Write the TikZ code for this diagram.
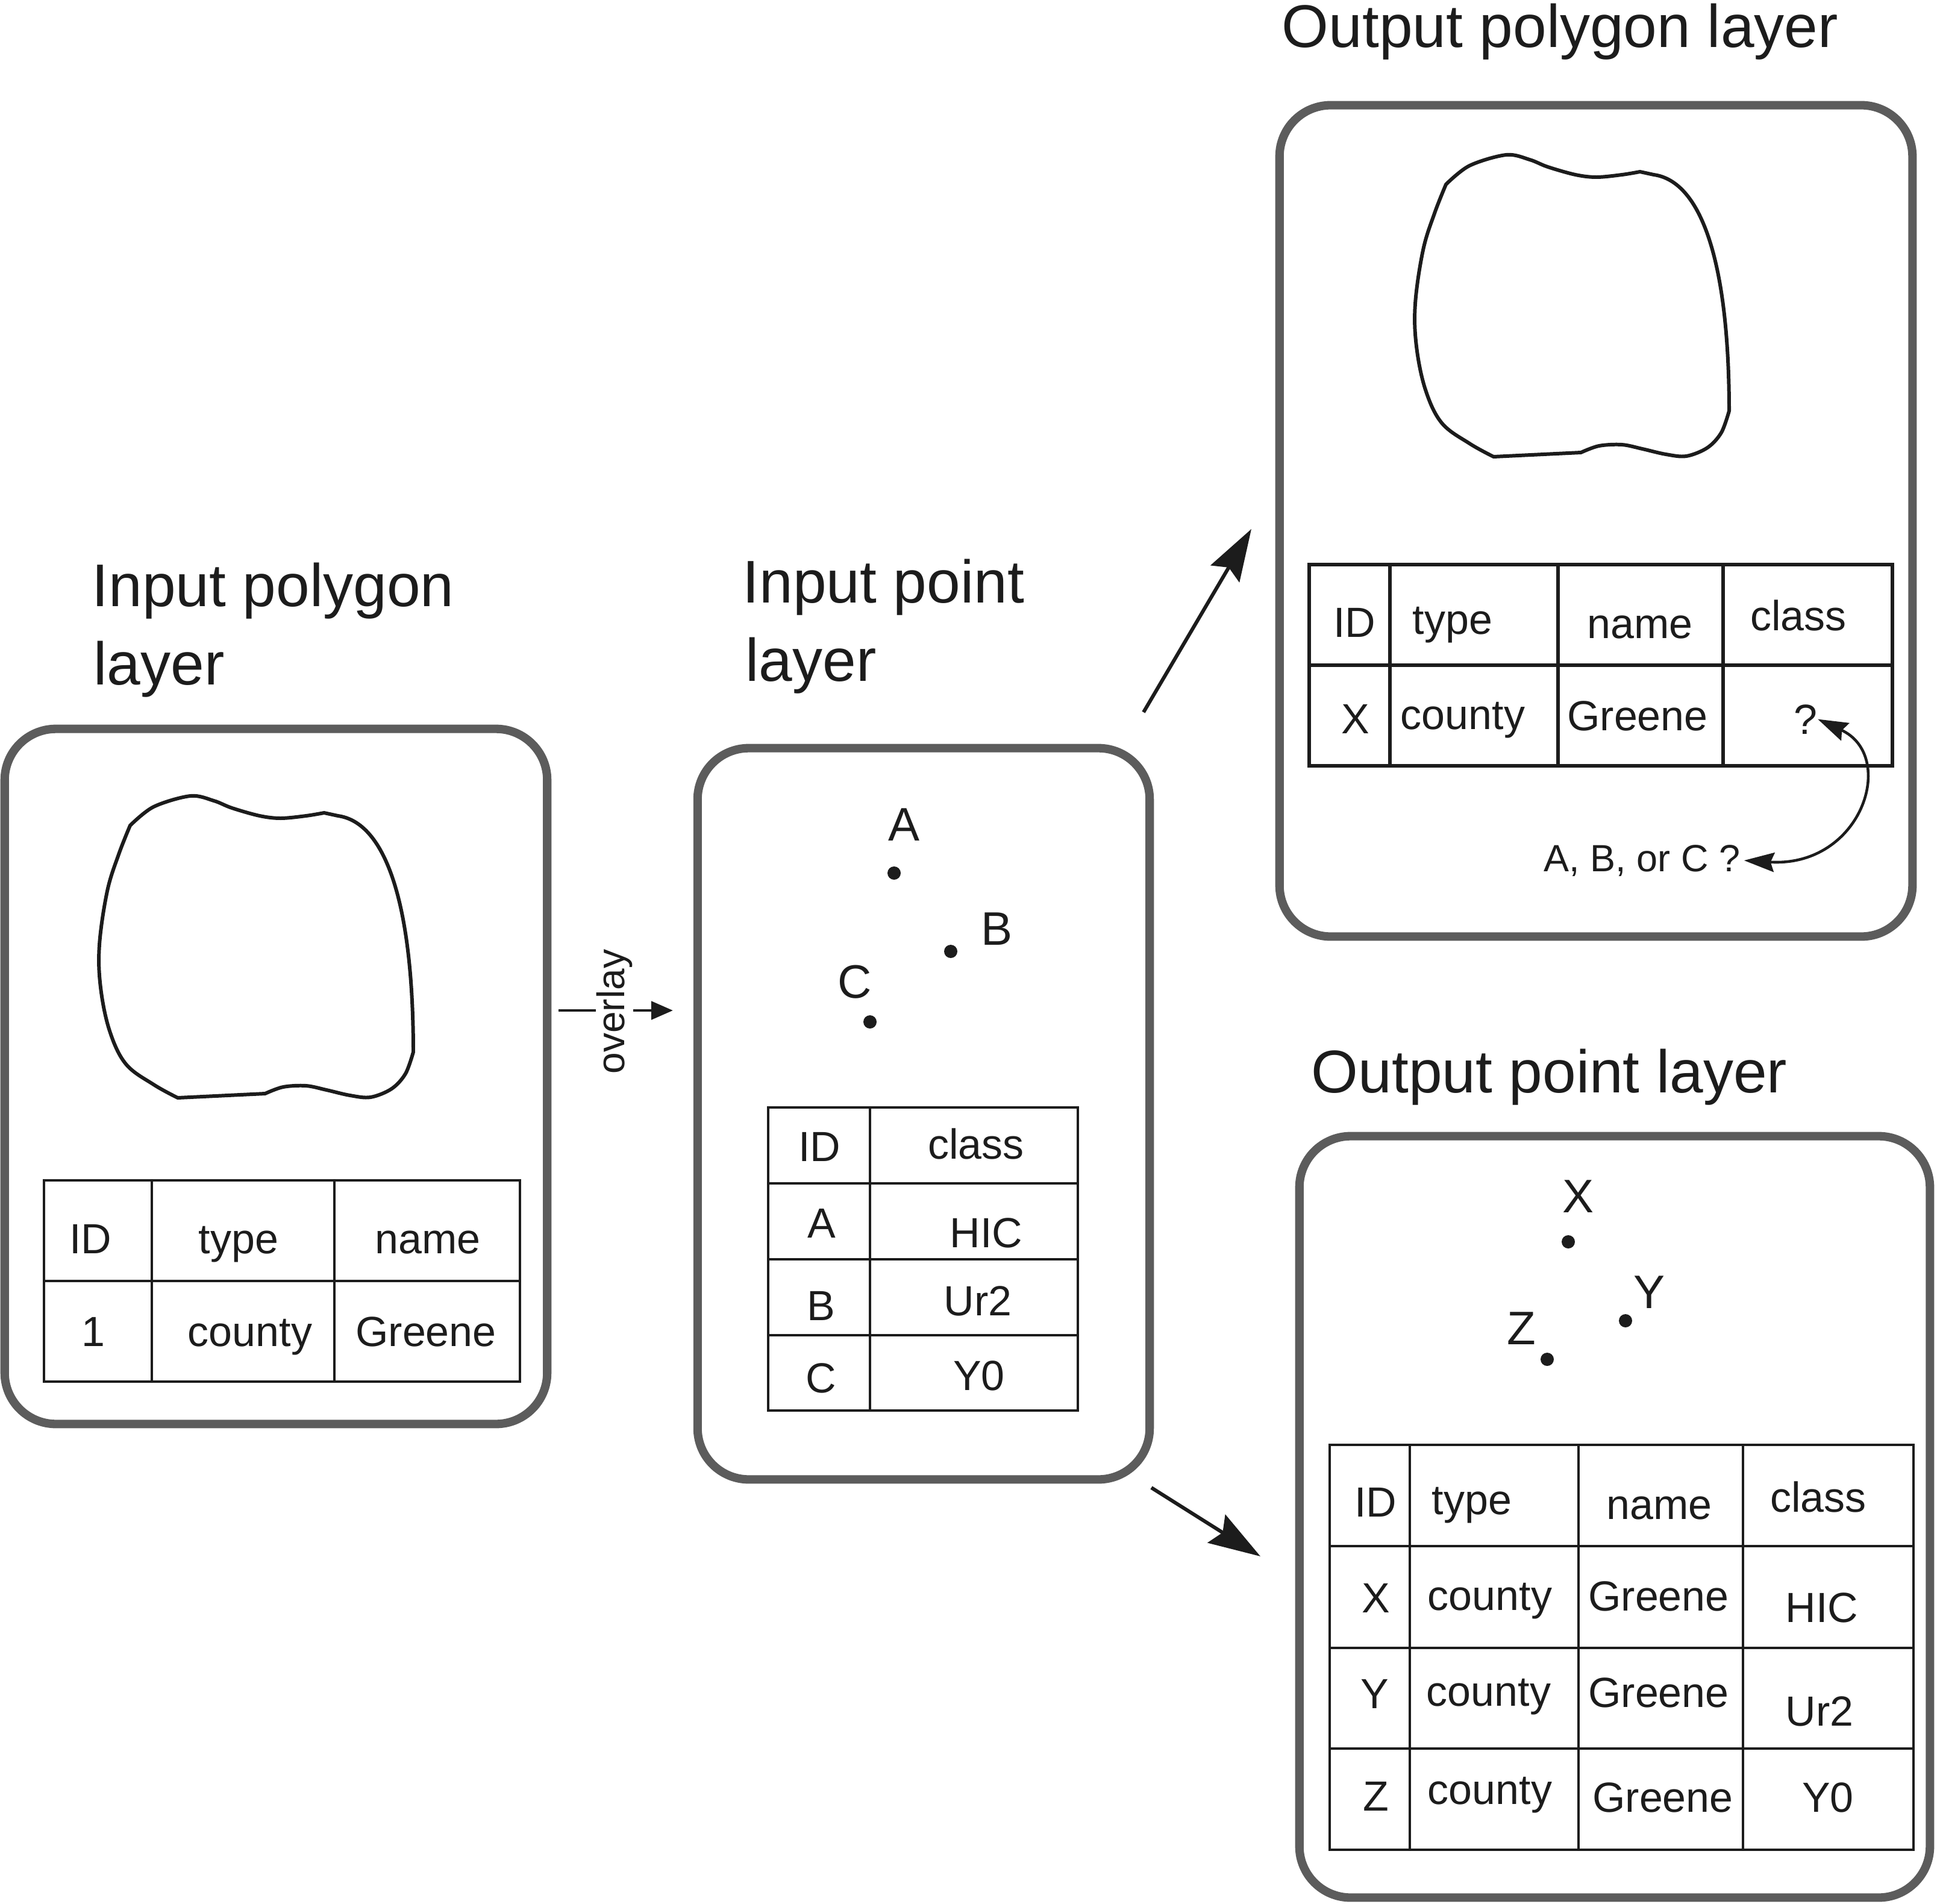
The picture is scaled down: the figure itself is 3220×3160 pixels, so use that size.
\documentclass[tikz,border=0pt]{standalone}
\usepackage{fontspec}
\setmainfont{Liberation Sans}
\usetikzlibrary{arrows.meta}
\definecolor{boxgray}{HTML}{5C5C5C}
\definecolor{ink}{HTML}{1C1C1C}
\newcommand\titlefnt{\fontsize{28.45}{34}\selectfont}
\newcommand\cellfnt{\fontsize{19.9}{24}\selectfont}
\newcommand\labfnt{\fontsize{22.2}{26}\selectfont}
\newcommand\smallfnt{\fontsize{17.9}{22}\selectfont}
\newcommand\ovfnt{\fontsize{18.2}{22}\selectfont}
\newcommand\blobshape{%
  \draw[blob] plot[smooth, tension=0.55] coordinates {(216,1370) (255,1339) (316,1321) (355,1329) (385,1341) (431,1354) (466,1358) (508,1354) (538,1349)} -- (561,1354)
   .. controls (640,1365) and (686,1500) .. (686,1746)
   -- plot[smooth, tension=0.55] coordinates {(686,1746) (673,1782) (650,1807) (615,1821) (581,1818) (542,1809) (508,1802) (470,1804) (440,1815)}
   -- (295,1822)
   -- plot[smooth, tension=0.6] coordinates {(295,1822) (255,1800) (209,1766) (182,1711) (167,1639) (165,1568) (178,1479) (197,1418) (216,1370)} -- cycle;}
\begin{document}
\begin{tikzpicture}[x=0.01cm, y=-0.01cm,
  layerbox/.style={draw=boxgray, line width=4pt, rounded corners=0.85cm, inner sep=0pt, fill=none},
  titletext/.style={anchor=base west, inner sep=0pt, font=\titlefnt, text=ink},
  cell/.style={anchor=base, inner sep=0pt, font=\cellfnt, text=ink},
  ptlabel/.style={inner sep=0pt, font=\labfnt, text=ink},
  ptdot/.style={circle, fill=ink, inner sep=0pt, minimum size=0.22cm},
  blob/.style={draw=ink, line width=1.7pt, line join=round},
  tabline/.style={draw=ink, line width=1.3pt},
  bigarrow/.style={draw=ink, line width=1.7pt, -{Stealth[length=0.86cm, width=0.55cm, inset=0.12cm]}},
  dblarrow/.style={draw=ink, line width=1.3pt, {Stealth[length=0.5cm, width=0.32cm, inset=0.06cm]}-{Stealth[length=0.5cm, width=0.32cm, inset=0.06cm]}}
]
\useasboundingbox (0,0) rectangle (3220,3160);

% ---------- boxes ----------
\node[layerbox, minimum width=9cm, minimum height=11.53cm] (b1) at (458,1786.5) {};
\node[layerbox, minimum width=7.5cm, minimum height=12.13cm] (b2) at (1533,1848.5) {};
\node[layerbox, minimum width=10.5cm, minimum height=13.79cm] (b3) at (2649,864.5) {};
\node[layerbox, minimum width=10.46cm, minimum height=12.63cm] (b4) at (2680,2517.5) {};

% ---------- titles ----------
\node[titletext] (t1a) at (152,1006) {Input polygon};
\node[titletext] (t1b) at (155,1136) {layer};
\node[titletext] (t2a) at (1232,1000) {Input point};
\node[titletext] (t2b) at (1237,1130) {layer};
\node[titletext] (t3) at (2127,78) {Output polygon layer};
\node[titletext] (t4) at (2176,1813) {Output point layer};

% ---------- polygons ----------
\blobshape
\begin{scope}[shift={(2184,-1064)}]
\blobshape
\end{scope}

% ---------- table 1 ----------
\draw[tabline] (73,1959) rectangle (863,2293)
  (252,1959) -- (252,2293) (555,1959) -- (555,2293) (73,2126) -- (863,2126);
\node[cell] (c1a) at (150,2080) {ID};
\node[cell] (c1b) at (396,2080) {type};
\node[cell] (c1c) at (710,2080) {name};
\node[cell] (c1d) at (155,2234) {1};
\node[cell] (c1e) at (415,2234) {county};
\node[cell] (c1f) at (707,2234) {Greene};

% ---------- table 2 ----------
\draw[tabline, line width=0.9pt] (1275,1838) rectangle (1789,2341)
  (1444,1838) -- (1444,2341) (1275,1964) -- (1789,1964) (1275,2090) -- (1789,2090) (1275,2216) -- (1789,2216);
\node[cell] (c2a) at (1360,1927) {ID};
\node[cell] (c2b) at (1620,1923) {class};
\node[cell] (c2c) at (1364,2054) {A};
\node[cell] (c2d) at (1637,2070) {HIC};
\node[cell] (c2e) at (1363,2191) {B};
\node[cell] (c2f) at (1623,2183) {Ur2};
\node[cell] (c2g) at (1363,2311) {C};
\node[cell] (c2h) at (1625,2307) {Y0};

% ---------- points in box 2 ----------
\node[ptdot] (pA) at (1484,1449) {};
\node[ptdot] (pB) at (1578,1579) {};
\node[ptdot] (pC) at (1444,1696) {};
\node[ptlabel] (lA) at (1501,1369) {A};
\node[ptlabel] (lB) at (1655,1542) {B};
\node[ptlabel] (lC) at (1419,1630) {C};

% ---------- table 3 ----------
\draw[tabline, line width=1.5pt] (2173,937) rectangle (3141,1271)
  (2307,937) -- (2307,1271) (2586,937) -- (2586,1271) (2860,937) -- (2860,1271) (2173,1104) -- (3141,1104);
\node[cell] (c3a) at (2248,1057) {ID};
\node[cell] (c3b) at (2411,1052) {type};
\node[cell] (c3c) at (2722,1059) {name};
\node[cell] (c3d) at (2985,1046) {class};
\node[cell] (c3e) at (2250,1217) {X};
\node[cell] (c3f) at (2428,1210) {county};
\node[cell] (c3g) at (2718,1212) {Greene};
\node[cell] (q) at (2997,1218) {?};

\node[anchor=base west, inner sep=0pt, font=\smallfnt, text=ink] (abc) at (2562,1446) {A, B, or C ?};
\draw[dblarrow] ([xshift=0.06cm]abc.east) .. controls (3090,1440) and (3150,1255) .. (q.east);

% ---------- table 4 ----------
\draw[tabline, line width=1.4pt] (2207,2398) rectangle (3176,3070)
  (2340,2398) -- (2340,3070) (2620,2398) -- (2620,3070) (2893,2398) -- (2893,3070)
  (2207,2566) -- (3176,2566) (2207,2735) -- (3176,2735) (2207,2902) -- (3176,2902);
\node[cell] (c4a) at (2283,2517) {ID};
\node[cell] (c4b) at (2443,2513) {type};
\node[cell] (c4c) at (2754,2521) {name};
\node[cell] (c4d) at (3018,2509) {class};
\node[cell] (c4e) at (2284,2676) {X};
\node[cell] (c4f) at (2473,2672) {county};
\node[cell] (c4g) at (2753,2673) {Greene};
\node[cell] (c4h) at (3024,2692) {HIC};
\node[cell] (c4i) at (2282,2835) {Y};
\node[cell] (c4j) at (2471,2831) {county};
\node[cell] (c4k) at (2753,2833) {Greene};
\node[cell] (c4l) at (3020,2864) {Ur2};
\node[cell] (c4m) at (2284,3005) {Z};
\node[cell] (c4n) at (2473,2994) {county};
\node[cell] (c4o) at (2760,3007) {Greene};
\node[cell] (c4p) at (3034,3007) {Y0};

% ---------- points in box 4 ----------
\node[ptdot] (pX) at (2603,2061) {};
\node[ptdot] (pY) at (2698,2192) {};
\node[ptdot] (pZ) at (2568,2256) {};
\node[ptlabel] (lX) at (2620,1986) {X};
\node[ptlabel] (lY) at (2738,2145) {Y};
\node[ptlabel] (lZ) at (2525,2205) {Z};

% ---------- arrows ----------
\coordinate (u1) at (1898,1182);
\coordinate (u2) at (2077,878);
\draw[bigarrow] (u1) -- (u2);
\coordinate (d1) at (1911,2469);
\coordinate (d2) at (2092,2583);
\draw[bigarrow] (d1) -- (d2);

\coordinate (ov1) at (927,1677);
\coordinate (ov2) at (1117,1677);
\node[rotate=90, inner sep=0pt, font=\ovfnt, text=ink] (ovl) at (1020,1679) {overlay};
\draw[draw=ink, line width=1.4pt] (ov1) -- (ov1 -| ovl.north);
\draw[draw=ink, line width=1.4pt, -{Triangle[length=0.36cm, width=0.3cm]}] (ov1 -| ovl.south) -- (ov2);
\end{tikzpicture}
\end{document}
